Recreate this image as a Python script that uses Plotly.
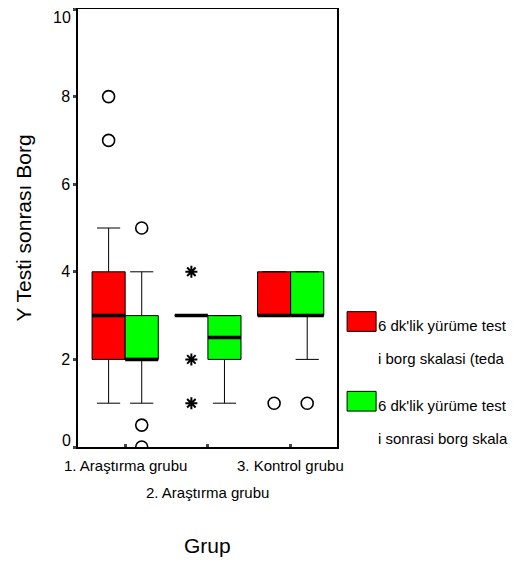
import plotly.graph_objects as go

# categories and tick labels
groups = ["1. Araştırma grubu", "2. Araştırma grubu", "3. Kontrol grubu"]
positions = [0, 1, 2]
y_ticks = [0, 2, 4, 6, 8, 10]
series_names = ["6 dk'lik yürüme test<br>i borg skalasi (teda",
                "6 dk'lik yürüme test<br>i sonrasi borg skala"]
series_colors = ["#ff0000", "#00ff00"]

# box statistics
red_q1 = [2, 3, 3]
red_median = [3, 3, 3]
red_q3 = [4, 3, 4]
red_low = [1, 3, 3]
red_high = [5, 3, 4]

green_q1 = [2, 2, 3]
green_median = [2, 2.5, 3]
green_q3 = [3, 3, 4]
green_low = [1, 1, 2]
green_high = [4, 3, 4]

# outliers (o) and extremes (*) : group index, value
red_out_grp = [0, 0, 2]
red_out_val = [8, 7, 1]
red_ext_grp = [1, 1, 1]
red_ext_val = [4, 2, 1]
green_out_grp = [0, 0, 0, 2]
green_out_val = [5, 0.5, 0, 1]

half = 0.2  # half of the distance between the paired box centres

fig = go.Figure()

stats = [
    (red_q1, red_median, red_q3, red_low, red_high),
    (green_q1, green_median, green_q3, green_low, green_high),
]
for i, (q1, med, q3, lo, hi) in enumerate(stats):
    fig.add_trace(go.Box(
        x=positions, q1=q1, median=med, q3=q3,
        lowerfence=lo, upperfence=hi,
        fillcolor=series_colors[i], line=dict(color="black", width=1),
        whiskerwidth=0.7, offsetgroup=str(i), name=series_names[i],
        showlegend=False, hoverinfo="skip",
    ))
    # thick median lines
    sign = -1 if i == 0 else 1
    mx, my = [], []
    for p, m in zip(positions, med):
        c = p + sign * half
        mx += [c - half, c + half, None]
        my += [m, m, None]
    fig.add_trace(go.Scatter(x=mx, y=my, mode="lines",
                             line=dict(color="black", width=3.5),
                             showlegend=False, hoverinfo="skip"))

circle = dict(symbol="circle-open", size=12, color="black", line=dict(width=1.6))
fig.add_trace(go.Scatter(
    x=[positions[g] - half for g in red_out_grp], y=red_out_val,
    mode="markers", marker=circle, showlegend=False))
fig.add_trace(go.Scatter(
    x=[positions[g] + half for g in green_out_grp], y=green_out_val,
    mode="markers", marker=circle, showlegend=False))
fig.add_trace(go.Scatter(
    x=[positions[g] - half for g in red_ext_grp], y=red_ext_val,
    mode="markers", showlegend=False,
    marker=dict(symbol="asterisk-open", size=10, color="black",
                line=dict(width=2, color="black"))))

# hand made legend (SPSS style)
for i, name in enumerate(series_names):
    top = 0.309 - i * 0.182
    fig.add_shape(type="rect", xref="paper", yref="paper",
                  x0=1.039, x1=1.151, y0=top - 0.045, y1=top,
                  fillcolor=series_colors[i], line=dict(color="black", width=1))
    lines = name.split("<br>")
    fig.add_annotation(text=lines[0], xref="paper", yref="paper",
                       x=1.149, y=top - 0.032, xanchor="left", yanchor="middle",
                       showarrow=False, font=dict(size=15))
    fig.add_annotation(text=lines[1], xref="paper", yref="paper",
                       x=1.149, y=top - 0.107, xanchor="left", yanchor="middle",
                       showarrow=False, font=dict(size=15))

# staggered category labels
for p, g in zip(positions, groups):
    shift = -45 if p == 1 else -18
    fig.add_annotation(text=g, x=p, xref="x", y=0, yref="paper",
                       yshift=shift, yanchor="middle", showarrow=False,
                       font=dict(size=15))

# end labels of the y axis are nudged inwards, as SPSS does
for v, shift in [(y_ticks[0], 7), (y_ticks[-1], -8)]:
    fig.add_annotation(text=str(v), x=0, xref="paper", xshift=-5, xanchor="right",
                       y=v, yref="y", yshift=shift, yanchor="middle",
                       showarrow=False, font=dict(size=16))

fig.add_annotation(text="Grup", x=0.5, xref="paper", y=0, yref="paper",
                   yshift=-98, yanchor="middle", showarrow=False,
                   font=dict(size=21))

fig.update_layout(
    width=523, height=565,
    margin=dict(l=70, r=194, t=1, b=126),
    plot_bgcolor="white", paper_bgcolor="white",
    font=dict(family="Liberation Sans, Arial, sans-serif", color="black", size=12),
    boxmode="group", boxgap=0.2, boxgroupgap=0,
    showlegend=False,
    xaxis=dict(range=[-0.57, 2.56], tickvals=positions, showticklabels=False,
               ticks="inside", ticklen=3, tickwidth=3, automargin=False,
               showline=True, linecolor="black", linewidth=1.5, mirror=True,
               showgrid=False, zeroline=False),
    yaxis=dict(range=[0, 10], tickvals=y_ticks,
               ticktext=[""] + [str(v) for v in y_ticks[1:-1]] + [""],
               ticks="outside", ticklen=3, tickwidth=3, automargin=False,
               showline=True, linecolor="black", linewidth=1.5, mirror=True,
               showgrid=False, zeroline=False, tickfont=dict(size=16),
               title=dict(text="Y Testi sonrası Borg", font=dict(size=21),
                          standoff=24)),
)

fig.write_html("out.html")
